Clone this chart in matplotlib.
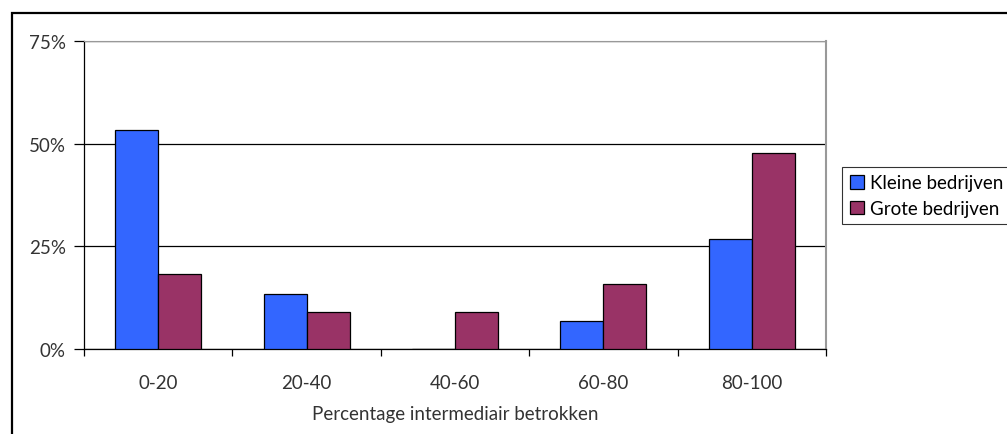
import numpy as np
import matplotlib.pyplot as plt
from matplotlib.patches import Rectangle
from matplotlib.ticker import PercentFormatter

plt.rcParams['font.family'] = ['Lato', 'DejaVu Sans']

categories = ['0-20', '20-40', '40-60', '60-80', '80-100']
kleine = [53.3, 13.3, 0.0, 6.7, 26.7]
grote = [18.2, 9.1, 9.1, 15.9, 47.7]

fs = 13.5
fig = plt.figure(figsize=(10.07, 4.35), dpi=100)
ax = fig.add_axes([0.0834, 0.1954, 0.7369, 0.708])

x = np.arange(len(categories))
w = 0.29
ax.bar(x - w / 2, kleine, w, color='#3366FF', edgecolor='black', lw=0.9,
       label='Kleine bedrijven', zorder=3)
ax.bar(x + w / 2, grote, w, color='#993366', edgecolor='black', lw=0.9,
       label='Grote bedrijven', zorder=3)

ax.set_xlim(-0.5, 4.5)
ax.set_ylim(0, 75)
ax.set_yticks([0, 25, 50, 75])
ax.yaxis.set_major_formatter(PercentFormatter(decimals=0))
ax.set_xticks(np.arange(-0.5, 5.0, 1.0))
ax.set_xticklabels([])
ax.set_xticks(x, minor=True)
ax.set_xticklabels(categories, minor=True)
ax.tick_params(axis='x', which='minor', length=0, pad=18, labelsize=fs, labelcolor='#333333')
ax.tick_params(axis='x', which='major', length=5, direction='out', width=0.9)
ax.tick_params(axis='y', length=7, direction='out', width=0.9, pad=6, labelsize=fs,
               labelcolor='#333333')

ax.grid(axis='y', color='black', lw=0.9, zorder=0)
ax.spines['top'].set_color('#999999')
ax.spines['right'].set_color('#999999')
ax.spines['right'].set_linewidth(1.5)
ax.spines['left'].set_linewidth(0.9)
ax.spines['bottom'].set_linewidth(0.9)

ax.set_xlabel('Percentage intermediair betrokken', fontsize=fs, color='#333333', labelpad=10)

leg = ax.legend(loc='upper left', bbox_to_anchor=(1.0216, 0.591), borderaxespad=0,
                fontsize=fs, frameon=True, fancybox=False, edgecolor='black',
                handlelength=0.75, handleheight=0.75, handletextpad=0.35,
                borderpad=0.4, labelspacing=0.45)
leg.get_frame().set_linewidth(0.8)

# outer chart border (runs off the right and bottom edges)
fig.patches.append(Rectangle((0.0119, -0.2), 1.2, 0.9678 + 0.2, transform=fig.transFigure,
                             fill=False, edgecolor='black', lw=1.6, clip_on=False))

fig.savefig('out.png', dpi=100)
